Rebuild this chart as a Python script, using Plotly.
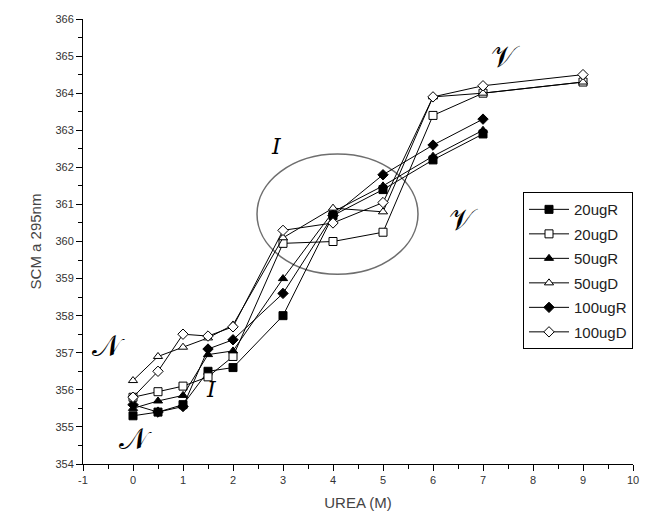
import plotly.graph_objects as go

urea = [0, 0.5, 1, 1.5, 2, 3, 4, 5, 6, 7, 9]
urea_r = [0, 0.5, 1, 1.5, 2, 3, 4, 5, 6, 7]

s20R = [355.3, 355.4, 355.6, 356.5, 356.6, 358.0, 360.7, 361.4, 362.2, 362.9]
s20D = [355.8, 355.95, 356.1, 356.35, 356.9, 359.95, 360.0, 360.25, 363.4, 364.0, 364.3]
s50R = [355.5, 355.7, 355.85, 356.95, 357.05, 359.0, 360.8, 361.5, 362.3, 363.0]
s50D = [356.25, 356.9, 357.15, 357.4, 357.75, 360.1, 360.9, 360.8, 363.9, 364.0, 364.3]
s100R = [355.6, 355.4, 355.55, 357.1, 357.35, 358.6, 360.7, 361.8, 362.6, 363.3]
s100D = [355.8, 356.5, 357.5, 357.45, 357.7, 360.3, 360.5, 361.05, 363.9, 364.2, 364.5]

xticks = [-1, 0, 1, 2, 3, 4, 5, 6, 7, 8, 9, 10]
xticklabels = ["-1", "0", "1", "2", "3", "4", "5", "6", "7", "8", "9", "10"]
yticks = list(range(354, 367))

series = [
    ("20ugR", urea_r, s20R, "square", "black"),
    ("20ugD", urea, s20D, "square", "white"),
    ("50ugR", urea_r, s50R, "triangle-up", "black"),
    ("50ugD", urea, s50D, "triangle-up", "white"),
    ("100ugR", urea_r, s100R, "diamond", "black"),
    ("100ugD", urea, s100D, "diamond", "white"),
]

fig = go.Figure()
for i, (name, xs, ys, sym, fill) in enumerate(series):
    fig.add_trace(go.Scatter(
        x=xs, y=ys, name=name, mode="lines+markers",
        line=dict(color="black", width=1),
        marker=dict(symbol=sym, size=8,
                    color=fill, line=dict(color="black", width=1)),
        legendgroup=f"g{i}",
    ))

# ellipse
fig.add_shape(type="circle", xref="x", yref="y", x0=2.48, x1=5.7, y0=359.12, y1=362.36,
              line=dict(color="#6e6e6e", width=1.5), layer="below")

annots = [
    ("<i>I</i>", 2.86, 362.55, 22),
    ("<i>I</i>", 1.56, 356.0, 22),
    ("𝒩", -0.5, 357.2, 30),
    ("𝒩", 0.04, 354.7, 30),
    ("𝒱", 7.44, 365.0, 30),
    ("𝒱", 6.6, 360.6, 30),
]
for txt, ax, ay, fs in annots:
    fig.add_annotation(x=ax, y=ay, xref="x", yref="y", text=txt, showarrow=False,
                       font=dict(family="DejaVu Serif, Liberation Serif, serif", size=fs, color="black"))

fig.update_layout(
    width=656, height=527,
    margin=dict(l=83, r=23, t=19, b=63),
    plot_bgcolor="white", paper_bgcolor="white",
    showlegend=True,
    legend=dict(x=0.8, y=0.611, xanchor="left", yanchor="top",
                bgcolor="white", bordercolor="black", borderwidth=1,
                font=dict(family="Liberation Sans, Arial, sans-serif", size=15, color="#222"),
                tracegroupgap=2, itemwidth=40),
    font=dict(family="Liberation Sans, Arial, sans-serif"),
)
fig.update_xaxes(
    range=[-1, 10], tickvals=xticks, ticktext=xticklabels,
    showgrid=False, zeroline=False, showline=True, linecolor="black", linewidth=1,
    ticks="outside", ticklen=6, tickcolor="black",
    minor=dict(dtick=0.5, tick0=-1, ticks="outside", ticklen=4, tickcolor="black"),
    tickfont=dict(size=11, color="#333"),
    title=dict(text="UREA (M)", font=dict(size=15, color="#444"), standoff=12),
)
fig.update_yaxes(
    range=[354, 366], tickvals=yticks,
    showgrid=False, zeroline=False, showline=True, linecolor="black", linewidth=1,
    ticks="outside", ticklen=6, tickcolor="black",
    minor=dict(dtick=0.5, tick0=354, ticks="outside", ticklen=4, tickcolor="black"),
    tickfont=dict(size=11, color="#333"),
    title=dict(text="SCM a 295nm", font=dict(size=15, color="#444"), standoff=10),
)

fig.write_html("out.html")
